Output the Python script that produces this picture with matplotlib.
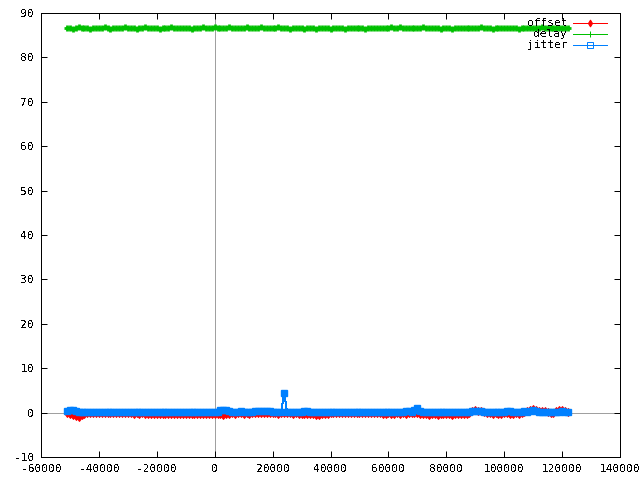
import matplotlib
matplotlib.use("Agg")
import matplotlib.pyplot as plt

# sample times (s)
x = [-51000, -50000, -49000, -48000, -47000, -46000, -45000, -44000, -43000, -42000,
     -41000, -40000, -39000, -38000, -37000, -36000, -35000, -34000, -33000, -32000,
     -31000, -30000, -29000, -28000, -27000, -26000, -25000, -24000, -23000, -22000,
     -21000, -20000, -19000, -18000, -17000, -16000, -15000, -14000, -13000, -12000,
     -11000, -10000, -9000, -8000, -7000, -6000, -5000, -4000, -3000, -2000,
     -1000, 0, 1000, 2000, 3000, 4000, 5000, 6000, 7000, 8000,
     9000, 10000, 11000, 12000, 13000, 14000, 15000, 16000, 17000, 18000,
     19000, 20000, 21000, 22000, 23000, 24000, 25000, 26000, 27000, 28000,
     29000, 30000, 31000, 32000, 33000, 34000, 35000, 36000, 37000, 38000,
     39000, 40000, 41000, 42000, 43000, 44000, 45000, 46000, 47000, 48000,
     49000, 50000, 51000, 52000, 53000, 54000, 55000, 56000, 57000, 58000,
     59000, 60000, 61000, 62000, 63000, 64000, 65000, 66000, 67000, 68000,
     69000, 70000, 71000, 72000, 73000, 74000, 75000, 76000, 77000, 78000,
     79000, 80000, 81000, 82000, 83000, 84000, 85000, 86000, 87000, 88000,
     89000, 90000, 91000, 92000, 93000, 94000, 95000, 96000, 97000, 98000,
     99000, 100000, 101000, 102000, 103000, 104000, 105000, 106000, 107000, 108000,
     109000, 110000, 111000, 112000, 113000, 114000, 115000, 116000, 117000, 118000,
     119000, 120000, 121000, 122000]

offset = [-0.2, -0.3, -0.5, -0.8, -1.1, -0.6, -0.3, -0.2, -0.2, -0.1,
          -0.2, -0.1, -0.2, -0.2, -0.1, -0.2, -0.1, -0.2, -0.2, -0.1,
          -0.2, -0.2, -0.1, -0.3, -0.2, -0.3, -0.2, -0.3, -0.4, -0.3,
          -0.3, -0.4, -0.3, -0.4, -0.4, -0.3, -0.4, -0.4, -0.3, -0.4,
          -0.4, -0.3, -0.4, -0.4, -0.4, -0.3, -0.4, -0.4, -0.3, -0.4,
          -0.4, -0.3, -0.4, -0.4, -0.5, -0.4, -0.3, -0.2, -0.3, -0.2,
          -0.2, -0.3, -0.2, -0.3, -0.2, -0.2, -0.1, -0.2, -0.1, -0.2,
          -0.2, -0.1, -0.2, -0.3, -0.2, -0.1, -0.2, -0.2, -0.3, -0.2,
          -0.3, -0.4, -0.3, -0.4, -0.3, -0.4, -0.5, -0.6, -0.4, -0.3,
          -0.3, -0.2, -0.2, -0.1, -0.2, -0.2, -0.1, -0.2, -0.2, -0.1,
          -0.2, -0.2, -0.1, -0.2, -0.1, -0.2, -0.2, -0.1, -0.2, -0.3,
          -0.3, -0.2, -0.4, -0.3, -0.2, -0.3, -0.2, -0.3, -0.2, -0.1,
          -0.2, -0.1, -0.3, -0.4, -0.4, -0.5, -0.4, -0.4, -0.5, -0.4,
          -0.3, -0.4, -0.4, -0.5, -0.4, -0.4, -0.3, -0.4, -0.3, -0.1,
          0.3, 0.5, 0.3, 0.3, 0.2, 0.0, -0.2, -0.3, -0.2, -0.3,
          -0.3, -0.2, -0.1, -0.3, -0.3, -0.2, -0.3, -0.1, 0.1, 0.3,
          0.6, 0.9, 0.5, 0.4, 0.3, 0.3, 0.2, -0.1, -0.2, 0.3,
          0.5, 0.6, 0.3, 0.2]

delay = [86.6, 86.7, 86.5, 86.6, 86.8, 86.6, 86.7, 86.6, 86.5, 86.7,
         86.6, 86.7, 86.6, 86.8, 86.6, 86.5, 86.7, 86.6, 86.6, 86.7,
         86.8, 86.6, 86.7, 86.6, 86.5, 86.6, 86.7, 86.8, 86.6, 86.6,
         86.7, 86.6, 86.5, 86.6, 86.7, 86.6, 86.8, 86.6, 86.7, 86.6,
         86.6, 86.7, 86.6, 86.5, 86.6, 86.7, 86.6, 86.8, 86.7, 86.6,
         86.7, 86.8, 86.6, 86.7, 86.6, 86.7, 86.8, 86.6, 86.7, 86.6,
         86.7, 86.6, 86.8, 86.7, 86.6, 86.7, 86.6, 86.8, 86.7, 86.6,
         86.7, 86.6, 86.7, 86.8, 86.6, 86.7, 86.6, 86.5, 86.7, 86.6,
         86.6, 86.7, 86.5, 86.6, 86.7, 86.6, 86.5, 86.6, 86.7, 86.6,
         86.6, 86.5, 86.7, 86.6, 86.6, 86.7, 86.5, 86.6, 86.7, 86.6,
         86.7, 86.6, 86.6, 86.5, 86.7, 86.6, 86.7, 86.6, 86.6, 86.7,
         86.6, 86.7, 86.8, 86.6, 86.7, 86.8, 86.7, 86.6, 86.7, 86.7,
         86.6, 86.7, 86.6, 86.8, 86.7, 86.6, 86.7, 86.6, 86.7, 86.5,
         86.6, 86.7, 86.6, 86.5, 86.6, 86.7, 86.6, 86.6, 86.7, 86.6,
         86.7, 86.6, 86.7, 86.8, 86.6, 86.7, 86.6, 86.5, 86.6, 86.7,
         86.6, 86.7, 86.6, 86.6, 86.7, 86.6, 86.5, 86.6, 86.7, 86.6,
         86.7, 86.6, 86.7, 86.6, 86.8, 86.7, 86.6, 86.7, 86.6, 86.7,
         86.6, 86.7, 86.6, 86.7]

jitter = [0.4, 0.5, 0.5, 0.3, 0.1, 0.05, 0.1, 0.05, 0.1, 0.05,
          0.05, 0.1, 0.05, 0.05, 0.1, 0.05, 0.05, 0.05, 0.1, 0.05,
          0.05, 0.05, 0.1, 0.05, 0.05, 0.1, 0.05, 0.05, 0.05, 0.1,
          0.05, 0.05, 0.05, 0.1, 0.05, 0.05, 0.05, 0.1, 0.05, 0.05,
          0.1, 0.05, 0.05, 0.05, 0.1, 0.05, 0.05, 0.05, 0.1, 0.05,
          0.05, 0.05, 0.1, 0.5, 0.6, 0.5, 0.3, 0.1, 0.1, 0.2,
          0.3, 0.2, 0.1, 0.05, 0.1, 0.3, 0.4, 0.4, 0.4, 0.3,
          0.3, 0.2, 0.1, 0.2, 0.2, 4.4, 0.1, 0.05, 0.1, 0.05,
          0.1, 0.2, 0.4, 0.3, 0.2, 0.1, 0.05, 0.1, 0.05, 0.05,
          0.1, 0.05, 0.05, 0.1, 0.05, 0.05, 0.05, 0.1, 0.05, 0.05,
          0.05, 0.1, 0.05, 0.05, 0.1, 0.05, 0.05, 0.05, 0.1, 0.05,
          0.05, 0.1, 0.05, 0.05, 0.1, 0.05, 0.1, 0.3, 0.3, 0.2,
          0.5, 1.0, 0.3, 0.1, 0.05, 0.1, 0.05, 0.05, 0.1, 0.05,
          0.05, 0.1, 0.05, 0.05, 0.1, 0.05, 0.05, 0.1, 0.05, 0.1,
          0.3, 0.3, 0.3, 0.3, 0.2, 0.1, 0.05, 0.1, 0.05, 0.1,
          0.05, 0.1, 0.3, 0.3, 0.1, 0.05, 0.1, 0.2, 0.3, 0.2,
          0.3, 0.5, 0.4, 0.2, 0.1, 0.2, 0.1, 0.1, 0.2, 0.1,
          0.2, 0.3, 0.2, 0.1]

series_names = ["offset", "delay", "jitter"]
colors = ["#ff0000", "#00c000", "#0080ff"]
markers = ["d", "+", "s"]
msizes = [4.5, 4.7, 4.0]
mews = [0.72, 2.0, 1.0]

xticks = list(range(-60000, 140001, 20000))
yticks = list(range(-10, 91, 10))

LW = 0.72  # one pixel at 100 dpi

plt.rcParams['font.family'] = ['DejaVu Sans Mono']
plt.rcParams['text.antialiased'] = False
fig = plt.figure(figsize=(6.4, 4.8), dpi=100)
ax = fig.add_axes([41/640, 23/480, 579/640, 444/480])
ax.set_xlim(-60000, 140000)
ax.set_ylim(-10, 90)

ax.axhline(0, color="#a0a0a0", lw=LW, zorder=1, antialiased=False)
ax.axvline(0, color="#a0a0a0", lw=LW, zorder=1, antialiased=False)

data = [offset, delay, jitter]
for vals, c, m, ms, mw in zip(data, colors, markers, msizes, mews):
    ax.plot(x, vals, color=c, lw=LW, marker=m, ms=ms, mew=mw,
            mfc=c, mec=c, zorder=3, antialiased=False)

ax.set_xticks(xticks)
ax.set_xticklabels([str(t) for t in xticks])
ax.set_yticks(yticks)
ax.set_yticklabels([str(t) for t in yticks])
ax.tick_params(direction='in', length=4, width=LW, top=True, right=True,
               labelsize=8, pad=5, colors='black')
for s in ax.spines.values():
    s.set_linewidth(LW)

# gnuplot-style key
ys = [0.978, 0.953, 0.928]
key_ms = [3.5, 4.0, 4.0]
for name, c, m, ms, yk in zip(series_names, colors, markers, key_ms, ys):
    ax.text(0.909, yk, name, transform=ax.transAxes, ha='right', va='center',
            fontsize=8, zorder=5)
    ax.plot([0.919, 0.978], [yk, yk], transform=ax.transAxes, color=c, lw=LW,
            clip_on=False, zorder=5, antialiased=False)
    ax.plot([0.948], [yk], transform=ax.transAxes, color=c, marker=m, ms=ms,
            mew=LW, mfc='none' if m == 's' else c, mec=c, clip_on=False, zorder=5,
            antialiased=False)

fig.savefig("out.png", dpi=100)
